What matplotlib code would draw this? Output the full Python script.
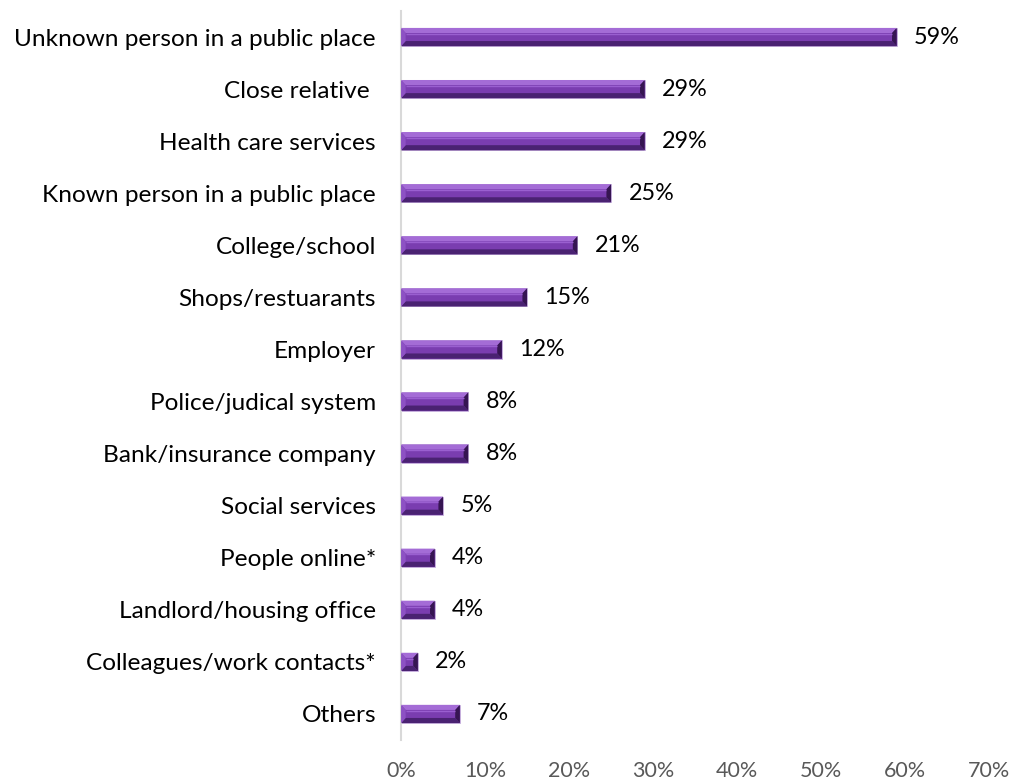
import matplotlib
matplotlib.use("Agg")
import matplotlib.pyplot as plt
from matplotlib.patches import Polygon

categories = [
    "Unknown person in a public place",
    "Close relative ",
    "Health care services",
    "Known person in a public place",
    "College/school",
    "Shops/restuarants",
    "Employer",
    "Police/judical system",
    "Bank/insurance company",
    "Social services",
    "People online*",
    "Landlord/housing office",
    "Colleagues/work contacts*",
    "Others",
]
values = [59, 29, 29, 25, 21, 15, 12, 8, 8, 5, 4, 4, 2, 7]
xticks = [0, 10, 20, 30, 40, 50, 60, 70]

plt.rcParams["font.family"] = ["Lato", "DejaVu Sans"]

fig = plt.figure(figsize=(10.14, 7.8), dpi=100)
ax = fig.add_axes([0.3955, 0.0513, 0.5799, 0.9346])

n = len(categories)
ypos = list(range(n))
height = 0.35

face = "#7a3db0"
top_c = "#a46cd6"
bot_c = "#4a2272"
left_c = "#8d52c4"
right_c = "#361552"

ax.barh(ypos, values, height=height, color=face, edgecolor="#c9b3de",
        linewidth=0.6, zorder=2)

# bevelled edges drawn on every bar
bx = 0.55   # bevel width in x (percent units)
by = height * 0.28
for y, v in zip(ypos, values):
    x0, x1 = 0, v
    y0, y1 = y - height / 2, y + height / 2  # y0 is top on inverted axis
    b = min(bx, v / 2)
    ax.add_patch(Polygon([(x0, y0), (x1, y0), (x1 - b, y0 + by), (x0 + b, y0 + by)],
                         closed=True, color=top_c, lw=0, zorder=3))
    ax.add_patch(Polygon([(x0, y1), (x1, y1), (x1 - b, y1 - by), (x0 + b, y1 - by)],
                         closed=True, color=bot_c, lw=0, zorder=3))
    ax.add_patch(Polygon([(x0, y0), (x0 + b, y0 + by), (x0 + b, y1 - by), (x0, y1)],
                         closed=True, color=left_c, lw=0, zorder=3))
    ax.add_patch(Polygon([(x1, y0), (x1 - b, y0 + by), (x1 - b, y1 - by), (x1, y1)],
                         closed=True, color=right_c, lw=0, zorder=3))
    ax.plot([x0 + b, x1 - b], [y0 + by * 1.15, y0 + by * 1.15], color="#9a5fd0",
            lw=1.0, zorder=3, solid_capstyle="butt")
    ax.annotate(f"{v}%", xy=(v, y), xytext=(12.5, 0), textcoords="offset points",
                ha="left", va="center", fontsize=16.8, color="black")

ax.set_xlim(0, 70)
ax.set_ylim(n - 0.5, -0.5)
ax.set_yticks(ypos)
ax.set_yticklabels(categories, fontsize=17.6, color="black")
ax.set_xticks(xticks)
ax.set_xticklabels([f"{t}%" for t in xticks], fontsize=15.5, color="#595959")
ax.tick_params(axis="y", length=0, pad=18)
ax.tick_params(axis="x", length=0, pad=15)

for s in ["top", "right", "bottom"]:
    ax.spines[s].set_visible(False)
ax.spines["left"].set_color("#d9d9d9")
ax.spines["left"].set_linewidth(1.5)

fig.savefig("out.png", dpi=100)
